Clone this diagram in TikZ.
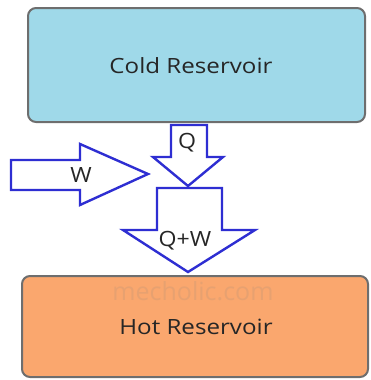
\documentclass[tikz,border=0pt]{standalone}
\usepackage{fontspec}
\setmainfont{Open Sans}
\usetikzlibrary{positioning}
\definecolor{coldfill}{HTML}{9FD9E9}
\definecolor{hotfill}{HTML}{FAA76E}
\definecolor{rimgray}{HTML}{6E6E6E}
\definecolor{flowblue}{HTML}{2E2ED2}
\tikzset{
  reservoir/.style={draw=rimgray,line width=2pt,rounded corners=8pt},
  fatarrow/.style={draw=flowblue,fill=white,line width=2.4pt,line join=miter},
  flowlabel/.style={font=\fontsize{21}{23}\selectfont,text=black!85,inner sep=0pt,xscale=1.1},
  boxlabel/.style={font=\fontsize{21}{23}\selectfont,text=black!85,inner sep=0pt,xscale=1.15}
}
\begin{document}
\begin{tikzpicture}[x=1pt,y=-1pt]
    \path[use as bounding box] (0,0) rectangle (370,380);

    % reservoirs
    \draw[reservoir,fill=coldfill] (28,8) rectangle (365,122);
    \node[boxlabel] (cold) at (191,66) {Cold Reservoir};
    \draw[reservoir,fill=hotfill] (22,276) rectangle (368,377);
    \node[font=\fontsize{25}{27}\selectfont,text=gray,opacity=0.15] (mark) at (193,291) {mecholic.com};
    \node[boxlabel] (hot) at (196,327) {Hot Reservoir};

    % heat from the cold side
    \draw[fatarrow] (171,125) -- (207,125) -- (207,157) -- (223,157)
      -- (188,186) -- (153,157) -- (171,157) -- cycle;
    \node[flowlabel] (q) at (187,143) {Q};

    % work put in
    \draw[fatarrow] (11,160) -- (80,160) -- (80,144) -- (148,174)
      -- (80,205) -- (80,190) -- (11,190) -- cycle;
    \node[flowlabel] (w) at (81,175) {W};

    % heat to the hot side
    \draw[fatarrow] (157,188) -- (222,188) -- (222,230) -- (255,230)
      -- (188,272) -- (123,230) -- (157,230) -- cycle;
    \node[flowlabel] (qw) at (185,241) {Q+W};
  \end{tikzpicture}
\end{document}
